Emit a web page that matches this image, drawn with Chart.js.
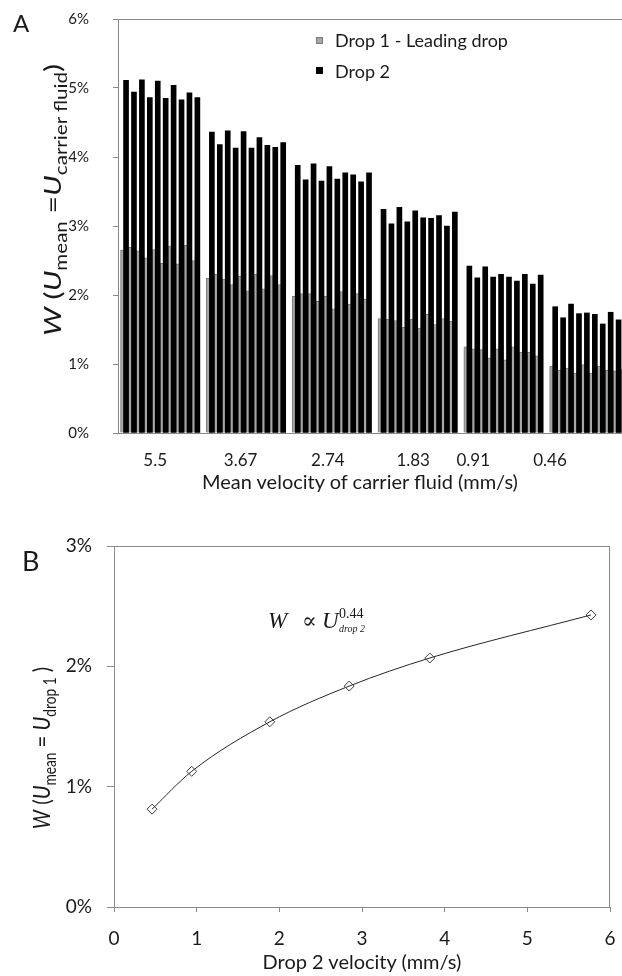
<!DOCTYPE html>
<html>
<head>
<meta charset="utf-8">
<title>Drop breakup chart</title>
<script src="https://cdn.jsdelivr.net/npm/chart.js@4.4.1/dist/chart.umd.min.js"></script>
<style>
  html, body { margin:0; padding:0; background:#fff; }
  body { width:622px; height:976px; position:relative; overflow:hidden; font-family:'Lato', sans-serif; color:#1a1a1a; }
  .panel { position:absolute; left:0; width:622px; }
  #panelA { top:0; height:500px; }
  #panelB { top:500px; height:476px; }
  .txt { position:absolute; white-space:nowrap; line-height:1; z-index:2; }
  .hc { transform: translateX(-50%); }
  .sb { position:relative; font-size:0.68em; top:0.35em; }
  .it { font-style:italic; }
  .key { position:absolute; width:7px; height:7px; box-sizing:border-box; z-index:2; }
  .serif { font-family:'Liberation Serif', 'DejaVu Serif', serif; }
</style>
</head>
<body>
<div class="panel" id="panelA"><canvas id="chartA"></canvas></div>
<div class="panel" id="panelB"><canvas id="chartB"></canvas></div>

<div class="txt" style="left:13px;top:11px;font-size:24px;">A</div>
<div class="txt" style="left:22px;top:547px;font-size:27px;">B</div>

<div id="legendA"></div>

<div class="txt" style="left:52px;top:200px;font-size:24px;transform:translate(-50%,-50%) rotate(-90deg) scaleX(1.26);"><span class="it">W</span> (<span class="it">U</span><span class="sb">mean</span> =<span class="it">U</span><span class="sb">carrier fluid</span>)</div>
<div class="txt hc" style="left:360px;top:471px;font-size:20px;">Mean velocity of carrier fluid (mm/s)</div>

<div class="txt" style="left:41px;top:748px;font-size:24px;transform:translate(-50%,-50%) rotate(-90deg) scaleX(0.84);"><span class="it">W</span> (<span class="it">U</span><span class="sb">mean</span> = <span class="it">U</span><span class="sb">drop 1</span> )</div>
<div class="txt hc" style="left:362px;top:951px;font-size:20px;">Drop 2 velocity (mm/s)</div>

<div class="txt serif it" style="left:268px;top:609px;font-size:23px;">W</div>
<div class="txt serif" style="left:302px;top:610px;font-size:22px;">&#8733;</div>
<div class="txt serif it" style="left:322px;top:609px;font-size:23px;">U</div>
<div class="txt serif" style="left:339px;top:607px;font-size:14px;">0.44</div>
<div class="txt serif it" style="left:339px;top:624px;font-size:10px;">drop 2</div>

<script>
// ---------------- data ----------------
const groupLabels = ['5.5', '3.67', '2.74', '1.83', '0.91', '0.46'];   // mean velocity of carrier fluid (mm/s)
const seriesNames = ['Drop 1 - Leading drop', 'Drop 2'];
// W (%) for the 10 runs of each velocity group
const drop1 = [
  [2.65, 2.69, 2.64, 2.54, 2.66, 2.46, 2.71, 2.45, 2.72, 2.50],
  [2.24, 2.30, 2.23, 2.15, 2.27, 2.06, 2.30, 2.09, 2.28, 2.15],
  [1.98, 2.02, 2.02, 1.91, 1.98, 1.80, 2.05, 1.87, 2.02, 1.94],
  [1.66, 1.65, 1.63, 1.53, 1.65, 1.52, 1.72, 1.57, 1.66, 1.62],
  [1.25, 1.22, 1.21, 1.09, 1.22, 1.06, 1.25, 1.17, 1.17, 1.12],
  [0.97, 0.91, 0.94, 0.87, 0.99, 0.87, 0.97, 0.91, 0.90, 0.92]
];
const drop2 = [
  [5.11, 4.94, 5.12, 4.86, 5.10, 4.85, 5.04, 4.83, 4.93, 4.86],
  [4.36, 4.18, 4.38, 4.13, 4.37, 4.13, 4.28, 4.17, 4.14, 4.21],
  [3.88, 3.67, 3.90, 3.65, 3.86, 3.68, 3.77, 3.74, 3.64, 3.77],
  [3.24, 3.03, 3.27, 3.06, 3.22, 3.12, 3.11, 3.15, 3.00, 3.20],
  [2.42, 2.25, 2.41, 2.26, 2.30, 2.26, 2.20, 2.30, 2.16, 2.29],
  [1.83, 1.67, 1.87, 1.73, 1.74, 1.72, 1.58, 1.75, 1.64, 1.70]
];
// panel B
const drop2Velocity = [0.46, 0.94, 1.885, 2.845, 3.82, 5.77];   // mm/s
const wDrop1 = [0.813, 1.127, 1.539, 1.836, 2.069, 2.427];      // %
const yTicksA = [0, 1, 2, 3, 4, 5, 6];
const yTicksB = [0, 1, 2, 3];
const xTicksB = [0, 1, 2, 3, 4, 5, 6];

// ---------------- layout ----------------
const GROUP_STRIDE = 10.83;   // axis units between velocity groups
const PAIR_SHIFT = 0.16;      // half offset between the overlapping drop1 / drop2 bars
const LABEL_POS = [3.83, 14.61, 25.62, 36.39, 43.97, 53.65];  // where the category labels sit
const axisGray = '#8a8a8a';
const textColor = '#1a1a1a';

function barPoints(groups, shift) {
  const pts = [];
  groups.forEach((vals, g) => vals.forEach((v, j) => pts.push({ x: g * GROUP_STRIDE + j + shift, y: v })));
  return pts;
}
function noPad(s) { s.paddingTop = 0; s.paddingBottom = 0; s.paddingLeft = 0; s.paddingRight = 0; }

const framePlugin = {
  id: 'frame',
  afterDraw(chart, args, opts) {
    const { ctx, chartArea: a } = chart;
    ctx.save();
    ctx.strokeStyle = opts.color || '#888';
    ctx.lineWidth = 1;
    ctx.beginPath();
    if (opts.top) { const y = Math.round(a.top) + 0.5; ctx.moveTo(a.left, y); ctx.lineTo(a.right, y); }
    if (opts.right) { const x = Math.round(a.right) - 0.5; ctx.moveTo(x, a.top); ctx.lineTo(x, a.bottom); }
    ctx.stroke();
    ctx.restore();
  }
};

const chartA = new Chart(document.getElementById('chartA'), {
  type: 'bar',
  data: {
    datasets: [
      { label: seriesNames[0], data: barPoints(drop1, -PAIR_SHIFT), backgroundColor: '#a6a6a6',
        borderColor: '#7b7b7b', borderWidth: 1, barThickness: 6, grouped: false, order: 2, clip: 0 },
      { label: seriesNames[1], data: barPoints(drop2, PAIR_SHIFT), backgroundColor: '#000000',
        borderWidth: 0, barThickness: 5, grouped: false, order: 1, clip: 0 }
    ]
  },
  options: {
    responsive: true, maintainAspectRatio: false, animation: false,
    layout: { padding: { top: 19, right: 0, left: 0, bottom: 0 } },
    plugins: { legend: { display: false }, tooltip: { enabled: false }, frame: { top: true, color: axisGray } },
    scales: {
      x: {
        type: 'linear', min: -0.856, max: 62.74, offset: false,
        afterBuildTicks: s => { s.ticks = LABEL_POS.map(v => ({ value: v })); },
        afterFit: s => { s.height = 67; noPad(s); },
        ticks: { autoSkip: false, maxRotation: 0, callback: (v, i) => groupLabels[i],
                 font: { family: 'Lato', size: 17 }, color: textColor, padding: 9 },
        grid: { display: false, offset: false },
        border: { display: true, color: axisGray }
      },
      y: {
        min: 0, max: 6,
        afterBuildTicks: s => { s.ticks = yTicksA.map(v => ({ value: v })); },
        afterFit: s => { s.width = 118; noPad(s); },
        ticks: { callback: v => v + '%', font: { family: 'Lato', size: 15 }, color: textColor, padding: 24 },
        grid: { display: true, drawOnChartArea: false, drawTicks: true, tickLength: 5, color: axisGray },
        border: { display: true, color: axisGray }
      }
    }
  },
  plugins: [framePlugin]
});

// legend for panel A, built from the chart's datasets
(function () {
  const host = document.getElementById('legendA');
  const rows = [{ keyTop: 37, textTop: 31 }, { keyTop: 67, textTop: 62 }];
  chartA.data.datasets.forEach((ds, i) => {
    const k = document.createElement('div');
    k.className = 'key';
    k.style.left = '316px'; k.style.top = rows[i].keyTop + 'px';
    k.style.background = ds.backgroundColor;
    if (ds.borderWidth) k.style.border = '1px solid ' + ds.borderColor;
    host.appendChild(k);
    const t = document.createElement('div');
    t.className = 'txt';
    t.style.left = '335px'; t.style.top = rows[i].textTop + 'px'; t.style.fontSize = '18px';
    t.textContent = ds.label;
    host.appendChild(t);
  });
})();

new Chart(document.getElementById('chartB'), {
  type: 'line',
  data: {
    datasets: [{
      label: 'W (U mean = U drop 1)',
      data: drop2Velocity.map((x, i) => ({ x: x, y: wDrop1[i] })),
      borderColor: '#262626', borderWidth: 1, cubicInterpolationMode: 'monotone', fill: false,
      pointStyle: 'rectRot', pointRadius: 5, pointBorderColor: '#3c3c3c',
      pointBackgroundColor: 'rgba(255,255,255,0)', pointBorderWidth: 1
    }]
  },
  options: {
    responsive: true, maintainAspectRatio: false, animation: false,
    layout: { padding: { top: 46, right: 12, left: 0, bottom: 0 } },
    plugins: { legend: { display: false }, tooltip: { enabled: false }, frame: { top: true, right: true, color: axisGray } },
    scales: {
      x: {
        type: 'linear', min: 0, max: 6,
        afterBuildTicks: s => { s.ticks = xTicksB.map(v => ({ value: v })); },
        afterFit: s => { s.height = 69; noPad(s); },
        ticks: { font: { family: 'Lato', size: 19 }, color: textColor, padding: 15 },
        grid: { display: true, drawOnChartArea: false, drawTicks: true, tickLength: 5, color: axisGray },
        border: { display: true, color: axisGray }
      },
      y: {
        min: 0, max: 3,
        afterBuildTicks: s => { s.ticks = yTicksB.map(v => ({ value: v })); },
        afterFit: s => { s.width = 114; noPad(s); },
        ticks: { callback: v => v + '%', font: { family: 'Lato', size: 19 }, color: textColor, padding: 15 },
        grid: { display: true, drawOnChartArea: false, drawTicks: true, tickLength: 7, color: axisGray },
        border: { display: true, color: axisGray }
      }
    }
  },
  plugins: [framePlugin]
});
</script>
</body>
</html>
